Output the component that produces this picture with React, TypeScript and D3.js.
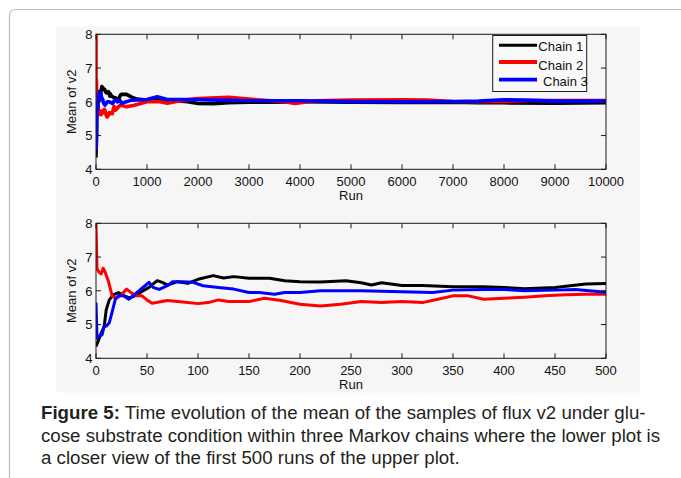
import React from "react";
import * as d3 from "d3";

// ---- data: running mean of v2 for three Markov chains, [run, mean] ----
const chain1: [number, number][] = [
  [0, 4.35], [2, 4.5], [5, 4.74], [8, 4.94], [10, 5.43], [13, 5.73], [17, 5.88], [22, 5.95],
  [28, 5.85], [33, 5.78], [38, 5.85], [45, 5.98], [52, 6.1], [60, 6.3], [65, 6.25], [70, 6.17],
  [80, 6.27], [90, 6.22], [100, 6.34], [115, 6.45], [125, 6.38], [135, 6.42], [150, 6.37],
  [170, 6.37], [185, 6.3], [200, 6.27], [220, 6.26], [245, 6.3], [260, 6.24], [270, 6.17],
  [280, 6.24], [300, 6.16], [320, 6.16], [350, 6.12], [380, 6.12], [400, 6.1], [420, 6.06],
  [450, 6.1], [480, 6.2], [500, 6.22], [600, 6.22], [700, 6.14], [800, 6.08], [1000, 6.05],
  [1200, 6.06], [1500, 6.04], [1800, 6.0], [2000, 5.95], [2300, 5.94], [2600, 5.97],
  [3000, 5.99], [3500, 5.99], [4000, 6.0], [5000, 5.99], [6000, 5.98], [7000, 5.99],
  [7500, 5.97], [8000, 5.97], [9000, 5.96], [10000, 5.97],
];
const chain2: [number, number][] = [
  [0, 8.0], [1, 6.65], [3, 6.55], [5, 6.5], [7, 6.67], [9, 6.55], [12, 6.3], [16, 5.83],
  [20, 5.78], [25, 5.88], [30, 6.05], [35, 5.93], [40, 5.85], [45, 5.85], [50, 5.73],
  [55, 5.63], [70, 5.71], [80, 5.68], [90, 5.65], [100, 5.62], [110, 5.65], [120, 5.73],
  [130, 5.68], [150, 5.68], [165, 5.78], [180, 5.72], [200, 5.6], [220, 5.55], [240, 5.6],
  [260, 5.68], [280, 5.65], [300, 5.68], [320, 5.65], [335, 5.75], [350, 5.85], [365, 5.85],
  [380, 5.75], [400, 5.78], [420, 5.81], [440, 5.85], [460, 5.88], [480, 5.9], [500, 5.9],
  [600, 5.85], [750, 5.9], [1000, 6.0], [1250, 6.0], [1400, 5.96], [1600, 6.02], [2000, 6.1],
  [2600, 6.13], [3000, 6.08], [3700, 6.0], [3900, 5.95], [4300, 6.03], [5000, 6.05],
  [6000, 6.06], [6500, 6.05], [7000, 6.01], [7500, 6.0], [8000, 6.01], [8500, 6.04],
  [9000, 6.04], [10000, 6.04],
];
const chain3: [number, number][] = [
  [0, 5.65], [1, 4.6], [3, 4.65], [6, 4.7], [8, 4.95], [10, 4.95], [13, 5.05], [16, 5.4],
  [19, 5.75], [22, 5.85], [27, 5.85], [32, 5.75], [36, 5.85], [42, 6.0], [48, 6.15],
  [52, 6.25], [56, 6.1], [62, 6.04], [70, 6.15], [75, 6.27], [85, 6.27], [95, 6.25],
  [105, 6.15], [120, 6.1], [135, 6.05], [150, 5.95], [160, 5.95], [175, 5.9], [185, 5.95],
  [200, 5.95], [220, 6.0], [240, 6.0], [260, 6.0], [300, 5.97], [330, 5.95], [350, 6.02],
  [380, 6.04], [400, 6.04], [420, 6.0], [450, 6.02], [470, 6.04], [500, 5.96], [700, 6.05],
  [1000, 6.07], [1200, 6.15], [1400, 6.07], [1850, 6.07], [2400, 6.05], [3000, 6.03],
  [4000, 6.03], [5000, 6.01], [6000, 6.0], [7000, 6.01], [7500, 6.02], [8000, 6.06],
  [8400, 6.05], [9000, 6.02], [10000, 6.02],
];

const chainNames = ["Chain 1", "Chain 2", "Chain 3"];
const chainColors = ["#000000", "#ff0000", "#0000ff"];
const topXTicks = [0, 1000, 2000, 3000, 4000, 5000, 6000, 7000, 8000, 9000, 10000];
const bottomXTicks = [0, 50, 100, 150, 200, 250, 300, 350, 400, 450, 500];
const yTicks = [4, 5, 6, 7, 8];
const xLabel = "Run";
const yLabel = "Mean of v2";
const captionBold = "Figure 5:";
const captionLines = [
  " Time evolution of the mean of the samples of flux v2 under glu-",
  "cose substrate condition within three Markov chains where the lower plot is",
  "a closer view of the first 500 runs of the upper plot.",
];

const FONT = "'Liberation Sans', Arial, sans-serif";
const W = 681;
const H = 478;

type PanelProps = {
  id: string;
  xDomain: [number, number];
  xTicks: number[];
  top: number;
  bottom: number;
  strokeW: number;
  legend?: boolean;
};

const LEFT = 96;
const RIGHT = 606;

function Panel({ id, xDomain, xTicks, top, bottom, strokeW, legend }: PanelProps) {
  const x = d3.scaleLinear().domain(xDomain).range([LEFT, RIGHT]);
  const y = d3.scaleLinear().domain([4, 8]).range([bottom, top]);
  const line = d3
    .line<[number, number]>()
    .x((d) => x(d[0]))
    .y((d) => y(d[1]));
  const chains = [chain1, chain2, chain3].map((c) => c.filter((d) => d[0] <= xDomain[1]));
  const tl = 5;
  return (
    <g>
      <defs>
        <clipPath id={id}>
          <rect x={LEFT} y={top} width={RIGHT - LEFT} height={bottom - top} />
        </clipPath>
      </defs>
      <g clipPath={`url(#${id})`}>
        {chains.map((c, i) => (
          <path
            key={i}
            d={line(c) || ""}
            fill="none"
            stroke={chainColors[i]}
            strokeWidth={strokeW}
            strokeLinejoin="round"
          />
        ))}
      </g>
      <rect x={LEFT} y={top} width={RIGHT - LEFT} height={bottom - top} fill="none" stroke="#1a1a1a" strokeWidth={1} />
      {xTicks.map((t) => (
        <g key={"x" + t}>
          <line x1={x(t)} x2={x(t)} y1={bottom} y2={bottom - tl} stroke="#1a1a1a" />
          <line x1={x(t)} x2={x(t)} y1={top} y2={top + tl} stroke="#1a1a1a" />
          <text x={x(t)} y={bottom + 16.5} textAnchor="middle" fontSize={13} fontFamily={FONT} fill="#111">
            {t}
          </text>
        </g>
      ))}
      {yTicks.map((t) => (
        <g key={"y" + t}>
          <line x1={LEFT} x2={LEFT + tl} y1={y(t)} y2={y(t)} stroke="#1a1a1a" />
          <line x1={RIGHT} x2={RIGHT - tl} y1={y(t)} y2={y(t)} stroke="#1a1a1a" />
          <text x={LEFT - 3.5} y={y(t) + 4.7} textAnchor="end" fontSize={13} fontFamily={FONT} fill="#111">
            {t}
          </text>
        </g>
      ))}
      <text x={(LEFT + RIGHT) / 2} y={bottom + 30.5} textAnchor="middle" fontSize={13} fontFamily={FONT} fill="#111">
        {xLabel}
      </text>
      <text
        transform={`translate(${76}, ${(top + bottom) / 2}) rotate(-90)`}
        textAnchor="middle"
        fontSize={13}
        fontFamily={FONT}
        fill="#111"
      >
        {yLabel}
      </text>
      {legend && (
        <g>
          <rect x={492.7} y={35.5} width={94} height={56} fill="#f9f9f9" stroke="#1a1a1a" strokeWidth={1} />
          {chainNames.map((n, i) => {
            const ly = [45.3, 62, 79.7][i];
            return (
              <g key={n}>
                <line x1={499} x2={537} y1={ly} y2={ly} stroke={chainColors[i]} strokeWidth={i === 0 ? 3 : 3.8} />
                <text x={i === 2 ? 543 : 538.3} y={[50.8, 69.7, 85.5][i]} fontSize={13} fontFamily={FONT} fill="#111">
                  {n}
                </text>
              </g>
            );
          })}
        </g>
      )}
    </g>
  );
}

export default function App() {
  return (
    <svg
      width={W}
      height={H}
      viewBox={`0 0 ${W} ${H}`}
      style={{ position: "absolute", left: 0, top: 0, background: "#ffffff" }}
    >
      <path d={`M9.5,${H} L9.5,16 Q9.5,9.5 16,9.5 L${W},9.5`} fill="none" stroke="#bdbdbd" strokeWidth={1.2} />
      <rect x={56.5} y={26.5} width={583.5} height={366} fill="#f6f6f6" />
      <Panel id="clipTop" xDomain={[0, 10000]} xTicks={topXTicks} top={34.3} bottom={169.3} strokeW={3.6} legend />
      <Panel id="clipBot" xDomain={[0, 500]} xTicks={bottomXTicks} top={223.3} bottom={358.3} strokeW={3} />
      {captionLines.map((l, i) => (
        <text key={i} x={41} y={419 + i * 22.7} fontSize={18.7} fontFamily={FONT} fill="#231f20">
          {i === 0 && <tspan fontWeight="bold">{captionBold}</tspan>}
          {l}
        </text>
      ))}
    </svg>
  );
}
